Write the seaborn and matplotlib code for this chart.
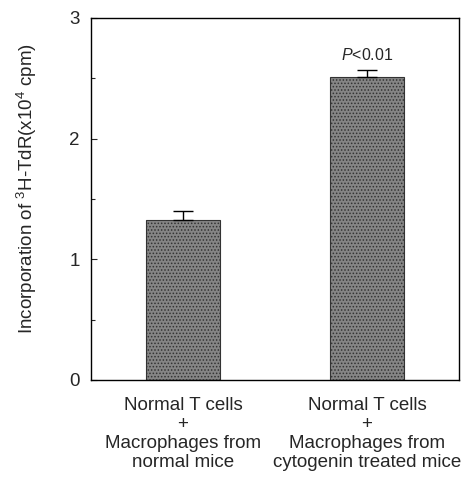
import matplotlib
matplotlib.use("Agg")
import matplotlib.pyplot as plt
import seaborn as sns
import numpy as np

categories = ["Normal T cells\n+\nMacrophages from\nnormal mice",
              "Normal T cells\n+\nMacrophages from\ncytogenin treated mice"]
means = [1.33, 2.51]
errors = [0.07, 0.06]
annotation = "$P$<0.01"

sns.set_style("white")
plt.rcParams['font.family'] = ['Liberation Sans', 'DejaVu Sans']
plt.rcParams['mathtext.fontset'] = 'custom'
plt.rcParams['mathtext.rm'] = 'Liberation Sans'
plt.rcParams['mathtext.it'] = 'Liberation Sans:italic'
plt.rcParams['hatch.color'] = '#2e2e2e'
plt.rcParams['hatch.linewidth'] = 0.7

fig = plt.figure(figsize=(4.70, 4.79), dpi=100)
ax = fig.add_axes([91/470, 1 - 380/479, (459-91)/470, (380-18)/479])

sns.barplot(x=list(range(len(categories))), y=means, ax=ax, color='#858585',
            width=0.4, errorbar=None, edgecolor='#333333', linewidth=0.8)
for p in ax.patches:
    p.set_hatch('.....')
ax.errorbar(range(len(categories)), means, yerr=[[0]*len(errors), errors],
            fmt='none', ecolor='black', elinewidth=1, capsize=7, capthick=1)

ax.text(1, means[1] + errors[1] + 0.06, annotation, ha='center', va='bottom', fontsize=11.5)

ax.set_xlim(-0.5, 1.5)
ax.set_ylim(0, 3)
ax.set_yticks([0, 1, 2, 3])
ax.set_yticks([0.5, 1.5, 2.5], minor=True)
ax.set_xticks(range(len(categories)))
ax.set_xticklabels(categories, fontsize=13.5, linespacing=1.15)
ax.tick_params(axis='x', length=0, pad=12)
ax.tick_params(axis='y', which='major', direction='in', length=4, width=0.8, labelsize=13.5, pad=8, left=True)
ax.tick_params(axis='y', which='minor', direction='in', length=3, width=0.8, left=True)
for s in ax.spines.values():
    s.set_visible(True)
    s.set_color('black')
    s.set_linewidth(1.0)
ax.set_ylabel("Incorporation of $^{3}$H-TdR(x10$^{4}$ cpm)", fontsize=13.5)
ax.yaxis.set_label_coords(-0.14, 0.53)

fig.savefig("out.png", dpi=100)
